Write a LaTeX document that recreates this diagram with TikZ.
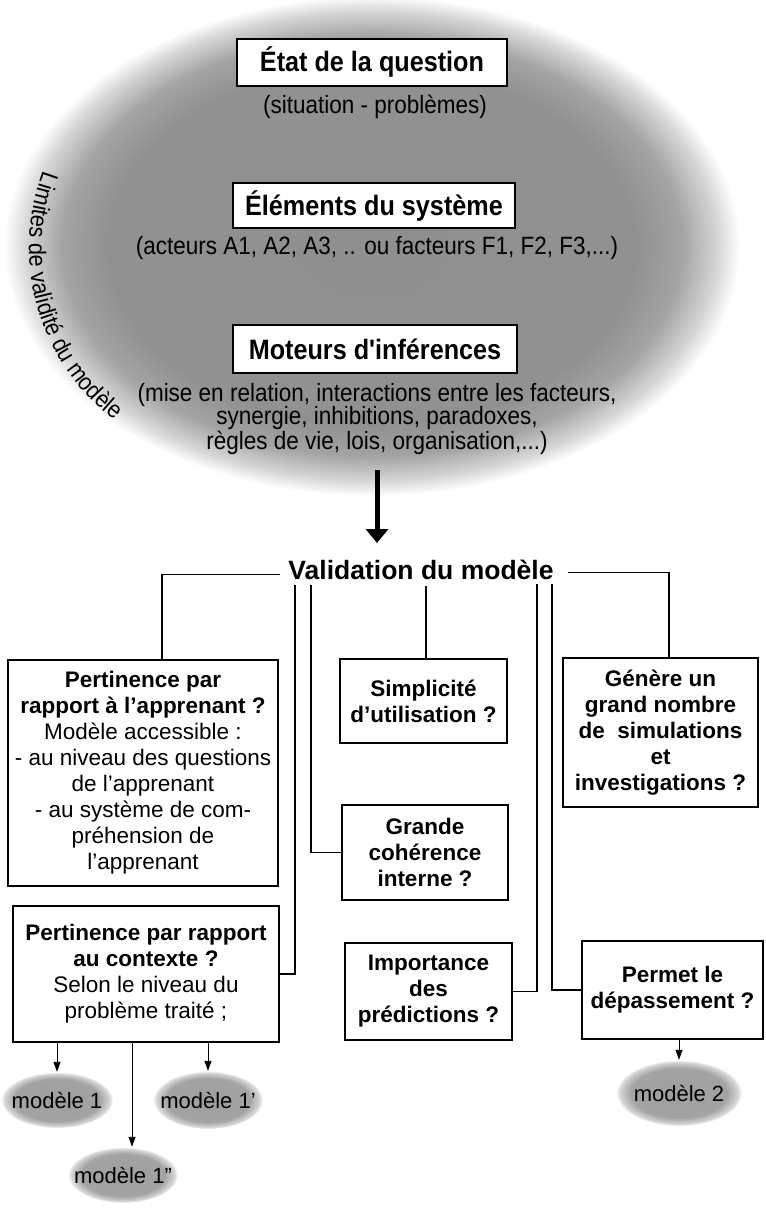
\documentclass[tikz,border=0pt]{standalone}
\usepackage{fontspec}
\setmainfont{Liberation Sans}
\newfontfamily\narrowf[FakeStretch=0.9]{Liberation Sans}
\usetikzlibrary{arrows.meta,shapes.geometric,decorations.text,calc}
\pgfdeclareradialshading{cloudbig}{\pgfpointorigin}{color(0bp)=(black!44); color(18bp)=(black!43); color(21bp)=(black!36); color(23.5bp)=(black!16); color(25bp)=(white); color(50bp)=(white)}
\pgfdeclareradialshading{cloudsmall}{\pgfpointorigin}{color(0bp)=(black!38); color(19bp)=(black!36); color(23.5bp)=(black!16); color(25bp)=(white); color(50bp)=(white)}
\begin{document}
\begin{tikzpicture}[x=1pt,y=-1pt,
  topbox/.style={draw, line width=1.5pt, fill=white, inner sep=0pt, font=\narrowf\bfseries\fontsize{28}{30}\selectfont},
  toptext/.style={inner sep=0pt, align=center, font=\narrowf\fontsize{25}{23.5}\selectfont},
  qbox/.style={draw, line width=1.4pt, fill=white, inner sep=0pt, align=center, font=\fontsize{22.5}{26}\selectfont},
  qboxb/.style={qbox, font=\bfseries\fontsize{22.5}{26}\selectfont},
  conn/.style={line width=1.8pt},
  bigarrow/.style={line width=5pt, -{Triangle[width=22pt,length=14pt]}},
  smallarr/.style={line width=0.9pt, -{Triangle[width=7pt,length=10pt]}},
  model/.style={ellipse, shade, shading=cloudsmall, inner sep=0pt, font=\fontsize{22}{22}\selectfont}]
\useasboundingbox (0,0) rectangle (765,1214);

% cloud
\shade[shading=cloudbig] (372,246) ellipse [x radius=368, y radius=250];
\path[decorate, decoration={text along path, text align=center,
  text={|\narrowf\fontsize{24}{24}\selectfont|Limites de validité du modèle}}]
  plot[smooth, samples=40, domain=0:1] ({245+216*cos(206-84*\x)},{248+216*sin(206-84*\x)});

\node[topbox, minimum width=270, minimum height=47] (etat) at (372,62.5) {État de la question};
\node[toptext] (sit) at (375,107) {(situation - problèmes)};
\node[topbox, minimum width=282, minimum height=45] (elem) at (374,205.5) {Éléments du système};
\node[toptext] (act) at (377,248) {(acteurs A1, A2, A3, .. ou facteurs F1, F2, F3,...)};
\node[topbox, minimum width=284, minimum height=48] (mot) at (375,349) {Moteurs d'inférences};
\node[toptext] (mise) at (377,419) {(mise en relation, interactions entre les facteurs,\\synergie, inhibitions, paradoxes,\\règles de vie, lois, organisation,...)};

% arrow
\coordinate (arrS) at (377,470);
\coordinate (arrE) at (377,543);
\draw[bigarrow] (arrS) -- (arrE);

\node[inner sep=0pt, anchor=base, font=\bfseries\fontsize{26.5}{30}\selectfont] (valid) at (421,579) {Validation du modèle};

% boxes
\node[qbox, minimum width=270, minimum height=226] (b1) at (143,773) {\textbf{Pertinence par}\\\textbf{rapport à l'apprenant ?}\\Modèle accessible :\\- au niveau des questions\\de l'apprenant\\- au système de com-\\préhension de\\l'apprenant};
\node[qbox, minimum width=266, minimum height=136] (b2) at (146,974) {\textbf{Pertinence par rapport}\\\textbf{au contexte ?}\\Selon le niveau du\\problème traité ;};
\node[qboxb, minimum width=167, minimum height=84] (simp) at (423.5,701) {Simplicité\\d'utilisation ?};
\node[qboxb, minimum width=195, minimum height=149] (gen) at (660.5,732.5) {Génère un\\grand nombre\\de\ \ simulations\\et\\investigations ?};
\node[qboxb, minimum width=166, minimum height=95] (gr) at (425,852.5) {Grande\\cohérence\\interne ?};
\node[qboxb, minimum width=167, minimum height=97] (imp) at (428.5,991.5) {Importance\\des\\prédictions ?};
\node[qboxb, minimum width=181, minimum height=98] (perm) at (672.5,990) {Permet le\\dépassement ?};

% models
\node[model, minimum width=112, minimum height=56] (m1) at (57,1100) {\makebox[0pt]{modèle 1}};
\node[model, minimum width=110, minimum height=58] (m1b) at (208,1100) {\makebox[0pt]{modèle 1'}};
\node[model, minimum width=110, minimum height=56] (m1c) at (123,1175) {\makebox[0pt]{modèle 1"}};
\node[model, minimum width=126, minimum height=66] (m2) at (679,1093) {\makebox[0pt]{modèle 2}};

% brackets
\draw[conn] ([xshift=-8pt,yshift=-5pt]valid.west) -| ([xshift=19pt]b1.north);
\draw[conn] ([xshift=14pt,yshift=-3pt]valid.east) -| ([xshift=8.5pt]gen.north);

\coordinate (vA) at (295,585);
\coordinate (vB) at (311,585);
\coordinate (vC) at (426,586);
\coordinate (vD) at (537,584);
\coordinate (vE) at (552,584);
\draw[conn] (vA) |- (b2.east);
\draw[conn] (vB) |- (gr.west);
\draw[conn] (vC) -- (vC |- simp.north);
\draw[conn] (vD) |- (imp.east);
\draw[conn] (vE) |- (perm.west);

% small arrows
\coordinate (c1c) at ([xshift=9pt]m1c.north);
\draw[smallarr] (b2.south -| m1.north) -- (m1.north);
\draw[smallarr] (b2.south -| c1c) -- (c1c);
\draw[smallarr] (b2.south -| m1b.north) -- (m1b.north);
\draw[smallarr] (perm.south -| m2.north) -- (m2.north);
\end{tikzpicture}
\end{document}
